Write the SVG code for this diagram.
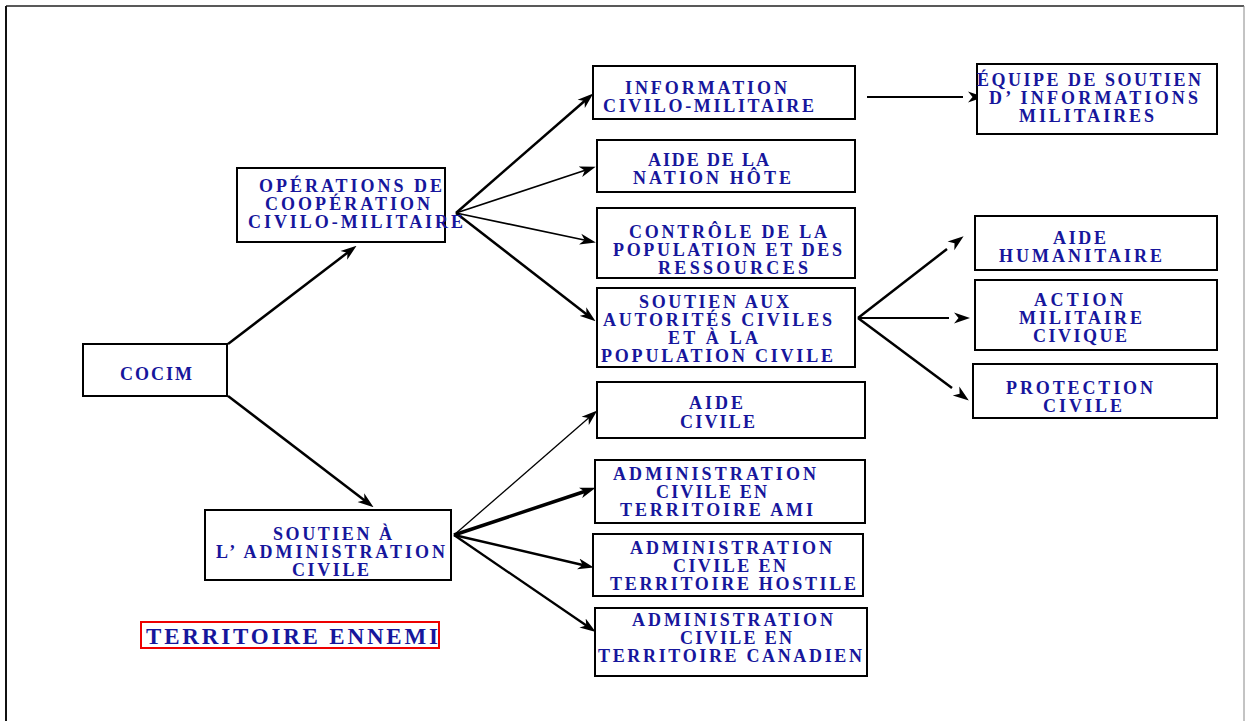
<svg xmlns="http://www.w3.org/2000/svg" width="1246" height="721" viewBox="0 0 1246 721">
  <style>
    .box { fill: #ffffff; stroke: #000000; stroke-width: 2; }
    .lbl { font-family: "Liberation Serif", "Times New Roman", serif; font-weight: bold; font-size: 18px; fill: #16169c; }
    .big { font-size: 23px; }
    .edge { fill: none; stroke: #000000; stroke-linecap: butt; }
  </style>
  <defs>
    <!-- barbed arrowhead, tip placed just past the line end -->
    <marker id="arr" markerUnits="userSpaceOnUse" viewBox="0 0 16 12" markerWidth="16" markerHeight="12" refX="9" refY="6" orient="auto">
      <path d="M0,0.5 L16,6 L0,11.5 L4.5,6 Z" fill="#000"/>
    </marker>
    <!-- arrowhead that floats a few pixels beyond the line end -->
    <marker id="arrGap" markerUnits="userSpaceOnUse" viewBox="-8 0 24 12" markerWidth="24" markerHeight="12" refX="-5" refY="6" orient="auto">
      <path d="M0,0.5 L16,6 L0,11.5 L4.5,6 Z" fill="#000"/>
    </marker>
  </defs>

  <!-- page frame -->
  <g id="frame">
    <line x1="6" y1="6" x2="1244" y2="6" stroke="#222" stroke-width="1.5"/>
    <line x1="6" y1="6" x2="6" y2="721" stroke="#111" stroke-width="2"/>
    <line x1="1244" y1="6" x2="1244" y2="721" stroke="#888" stroke-width="1"/>
  </g>

  <g id="connectors">
    <line class="edge" x1="228" y1="344" x2="351" y2="250" stroke-width="2.5" marker-end="url(#arr)"/>
    <line class="edge" x1="228" y1="396" x2="368" y2="503" stroke-width="2.5" marker-end="url(#arr)"/>

    <line class="edge" x1="456" y1="213" x2="588" y2="98" stroke-width="2.5" marker-end="url(#arr)"/>
    <line class="edge" x1="456" y1="213" x2="589" y2="169" stroke-width="1.7" marker-end="url(#arr)"/>
    <line class="edge" x1="456" y1="213" x2="589" y2="241" stroke-width="1.7" marker-end="url(#arr)"/>
    <line class="edge" x1="456" y1="213" x2="590" y2="317" stroke-width="2.5" marker-end="url(#arr)"/>

    <line class="edge" x1="867" y1="97" x2="963" y2="97" stroke-width="2" marker-end="url(#arrGap)"/>

    <line class="edge" x1="858" y1="318" x2="947" y2="249" stroke-width="2.5" marker-end="url(#arrGap)"/>
    <line class="edge" x1="858" y1="318" x2="949" y2="318" stroke-width="2" marker-end="url(#arrGap)"/>
    <line class="edge" x1="858" y1="318" x2="952" y2="388" stroke-width="2.5" marker-end="url(#arrGap)"/>

    <line class="edge" x1="454" y1="535" x2="592" y2="415" stroke-width="1.3" marker-end="url(#arr)"/>
    <line class="edge" x1="454" y1="535" x2="589" y2="490" stroke-width="3.5" marker-end="url(#arr)"/>
    <line class="edge" x1="454" y1="535" x2="587" y2="566" stroke-width="2.5" marker-end="url(#arr)"/>
    <line class="edge" x1="454" y1="535" x2="590" y2="628" stroke-width="2.3" marker-end="url(#arr)"/>
  </g>

  <g id="cocim">
    <rect class="box" x="83" y="344" width="144" height="52"/>
    <text class="lbl" x="120" y="380" textLength="72">COCIM</text>
  </g>

  <g id="operations-cocim">
    <rect class="box" x="237" y="168" width="208" height="74"/>
    <text class="lbl" x="259" y="192" textLength="183">OPÉRATIONS DE</text>
    <text class="lbl" x="265" y="210" textLength="165">COOPÉRATION</text>
    <text class="lbl" x="248" y="228" textLength="215">CIVILO-MILITAIRE</text>
  </g>

  <g id="soutien-administration">
    <rect class="box" x="205" y="510" width="246" height="70"/>
    <text class="lbl" x="273" y="540" textLength="119">SOUTIEN À</text>
    <text class="lbl" x="216" y="558" textLength="229">L’ ADMINISTRATION</text>
    <text class="lbl" x="292" y="576" textLength="77">CIVILE</text>
  </g>

  <g id="information">
    <rect class="box" x="593" y="66" width="262" height="53"/>
    <text class="lbl" x="625" y="94" textLength="162">INFORMATION</text>
    <text class="lbl" x="603" y="112" textLength="211">CIVILO-MILITAIRE</text>
  </g>

  <g id="nation-hote">
    <rect class="box" x="597" y="140" width="258" height="52"/>
    <text class="lbl" x="648" y="166" textLength="121">AIDE DE LA</text>
    <text class="lbl" x="633" y="184" textLength="158">NATION HÔTE</text>
  </g>

  <g id="controle">
    <rect class="box" x="597" y="208" width="258" height="70"/>
    <text class="lbl" x="629" y="238" textLength="198">CONTRÔLE DE LA</text>
    <text class="lbl" x="613" y="256" textLength="229">POPULATION ET DES</text>
    <text class="lbl" x="658" y="274" textLength="150">RESSOURCES</text>
  </g>

  <g id="soutien-autorites">
    <rect class="box" x="597" y="288" width="258" height="79"/>
    <text class="lbl" x="639" y="308" textLength="150">SOUTIEN AUX</text>
    <text class="lbl" x="603" y="326" textLength="229">AUTORITÉS CIVILES</text>
    <text class="lbl" x="668" y="344" textLength="90">ET À LA</text>
    <text class="lbl" x="601" y="362" textLength="232">POPULATION CIVILE</text>
  </g>

  <g id="aide-civile">
    <rect class="box" x="597" y="382" width="268" height="56"/>
    <text class="lbl" x="689" y="409" textLength="54">AIDE</text>
    <text class="lbl" x="680" y="428" textLength="75">CIVILE</text>
  </g>

  <g id="territoire-ami">
    <rect class="box" x="595" y="460" width="270" height="63"/>
    <text class="lbl" x="613" y="480" textLength="203">ADMINISTRATION</text>
    <text class="lbl" x="656" y="498" textLength="111">CIVILE EN</text>
    <text class="lbl" x="620" y="516" textLength="193">TERRITOIRE AMI</text>
  </g>

  <g id="territoire-hostile">
    <rect class="box" x="593" y="534" width="270" height="62"/>
    <text class="lbl" x="630" y="554" textLength="202">ADMINISTRATION</text>
    <text class="lbl" x="673" y="572" textLength="113">CIVILE EN</text>
    <text class="lbl" x="610" y="590" textLength="246">TERRITOIRE HOSTILE</text>
  </g>

  <g id="territoire-canadien">
    <rect class="box" x="595" y="608" width="272" height="68"/>
    <text class="lbl" x="632" y="626" textLength="201">ADMINISTRATION</text>
    <text class="lbl" x="680" y="644" textLength="112">CIVILE EN</text>
    <text class="lbl" x="598" y="662" textLength="264">TERRITOIRE CANADIEN</text>
  </g>

  <g id="equipe-soutien">
    <rect class="box" x="977" y="64" width="240" height="70"/>
    <text class="lbl" x="977" y="86" textLength="224">ÉQUIPE DE SOUTIEN</text>
    <text class="lbl" x="989" y="104" textLength="209">D’ INFORMATIONS</text>
    <text class="lbl" x="1019" y="122" textLength="135">MILITAIRES</text>
  </g>

  <g id="aide-humanitaire">
    <rect class="box" x="975" y="216" width="242" height="54"/>
    <text class="lbl" x="1053" y="244" textLength="53">AIDE</text>
    <text class="lbl" x="999" y="262" textLength="163">HUMANITAIRE</text>
  </g>

  <g id="action-civique">
    <rect class="box" x="975" y="280" width="242" height="70"/>
    <text class="lbl" x="1034" y="306" textLength="89">ACTION</text>
    <text class="lbl" x="1019" y="324" textLength="123">MILITAIRE</text>
    <text class="lbl" x="1033" y="342" textLength="94">CIVIQUE</text>
  </g>

  <g id="protection-civile">
    <rect class="box" x="973" y="364" width="244" height="54"/>
    <text class="lbl" x="1006" y="394" textLength="147">PROTECTION</text>
    <text class="lbl" x="1043" y="412" textLength="79">CIVILE</text>
  </g>

  <g id="territoire-ennemi">
    <rect x="141" y="622" width="298" height="26" fill="none" stroke="#ee0000" stroke-width="2"/>
    <text class="lbl big" x="146" y="644" textLength="292">TERRITOIRE ENNEMI</text>
  </g>
</svg>
